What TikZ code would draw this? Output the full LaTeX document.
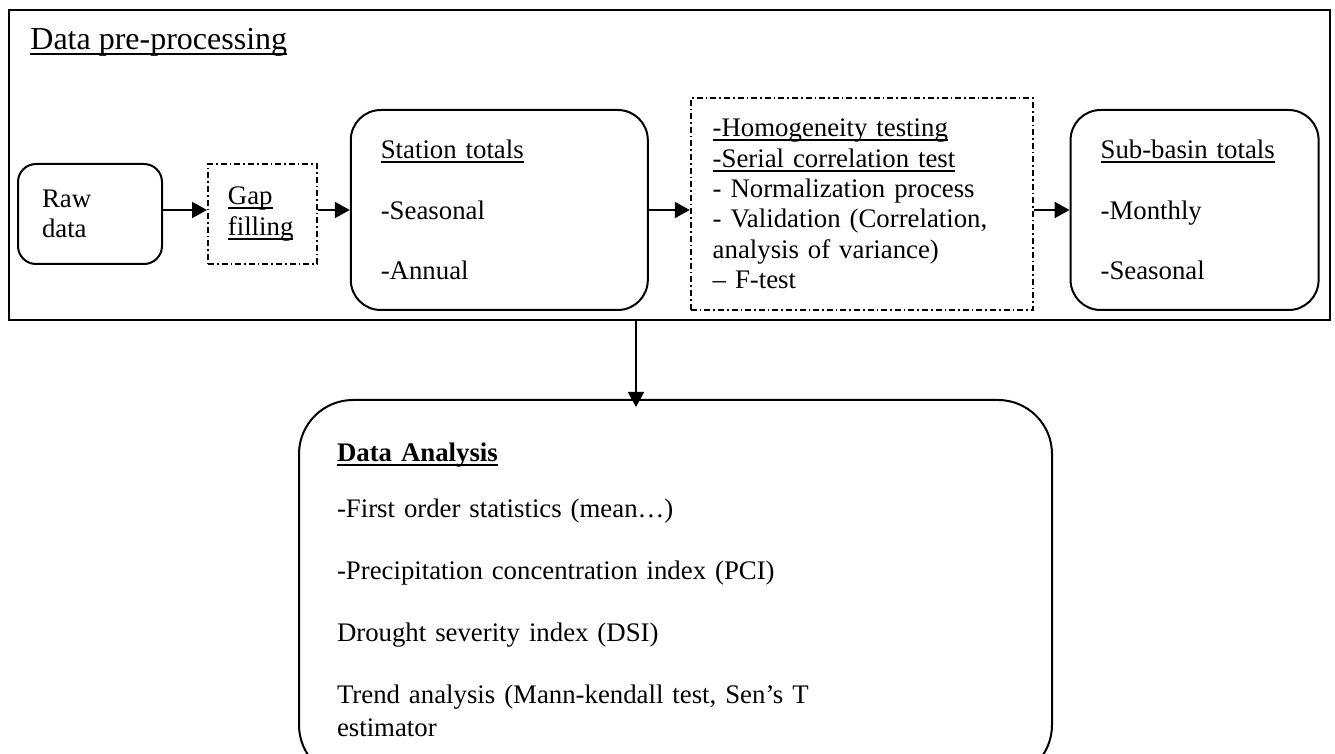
\documentclass[tikz,border=0pt]{standalone}
\usepackage{fontspec}
\setmainfont{Liberation Serif}
\usetikzlibrary{arrows.meta,positioning}
\newcommand{\ulin}[1]{\leavevmode\setbox0\hbox{#1}\rlap{\rule[-2.3pt]{\wd0}{1pt}}\box0}

\begin{document}
\begin{tikzpicture}[
      x=0.5pt, y=-0.5pt,
      txt/.style={font=\fontsize{13.4pt}{15.2pt}\selectfont, align=left},
      roundbox/.style={
        txt, rectangle, draw=black, line width=1pt, rounded corners=15pt,
        inner xsep=15pt, inner ysep=0pt
      },
      dashbox/.style={
        txt, rectangle, draw=black, line width=0.9pt,
        dash pattern=on 3pt off 1.5pt on 0.8pt off 1.5pt,
        inner xsep=10pt, inner ysep=0pt
      },
      arrow/.style={-{Triangle[length=7.5pt,width=8pt]}, draw=black, line width=1pt}
    ]
      \useasboundingbox (0,0) rectangle (1335,754);

      % pre-processing frame
      \node[draw, line width=1.4pt, minimum width=660.5pt, minimum height=155pt, inner sep=0pt] (prep) at (669.5,165) {};
      \node[font=\fontsize{16pt}{19pt}\selectfont, anchor=base west, inner sep=0pt] (title) at (30,50) {\ulin{Data pre-processing}};

      \node[roundbox, rounded corners=9pt, inner xsep=12pt, text width=48pt, minimum height=50pt] (raw) at (90,214) {Raw\\data};
      \node[dashbox, text width=34.5pt, minimum height=50pt, right=22pt of raw] (gap) {\ulin{Gap}\\\ulin{filling}};
      \node[roundbox, text width=118.5pt, minimum height=100pt, right=16pt of gap, yshift=2pt] (station) {\ulin{Station totals}\\[15.2pt]-Seasonal\\[15.2pt]-Annual};
      \node[dashbox, inner xsep=11pt, text width=149pt, minimum height=106pt, right=20.5pt of station, yshift=3pt] (homog) {\ulin{-Homogeneity testing}\\\ulin{-Serial correlation test}\\- Normalization process\\- Validation (Correlation,\\analysis of variance)\\– F-test};
      \node[roundbox, text width=94pt, minimum height=100pt, right=18pt of homog, yshift=-3pt] (sub) {\ulin{Sub-basin totals}\\[15.2pt]-Monthly\\[15.2pt]-Seasonal};

      % analysis
      \node[roundbox, rounded corners=27pt, inner xsep=19pt, text width=338.5pt, minimum height=189.5pt] (analysis) at (675.5,589.5) {\ulin{\textbf{Data Analysis}}\\[12.8pt]-First order statistics (mean…)\\[15.8pt]-Precipitation concentration index (PCI)\\[15.8pt]Drought severity index (DSI)\\[15.8pt]Trend analysis (Mann-kendall test, Sen’s T\\[1.3pt]estimator};
      \coordinate (drop) at (636,0);

      \draw[arrow] (raw.east |- station) -- (gap.west |- station);
      \draw[arrow] (gap.east |- station) -- (station.west);
      \draw[arrow] (station.east) -- (station.east -| homog.west);
      \draw[arrow] (homog.east |- sub) -- (sub.west);
      \draw[arrow, shorten >=-4pt] (prep.south -| drop) -- (analysis.north -| drop);
    \end{tikzpicture}
\end{document}
